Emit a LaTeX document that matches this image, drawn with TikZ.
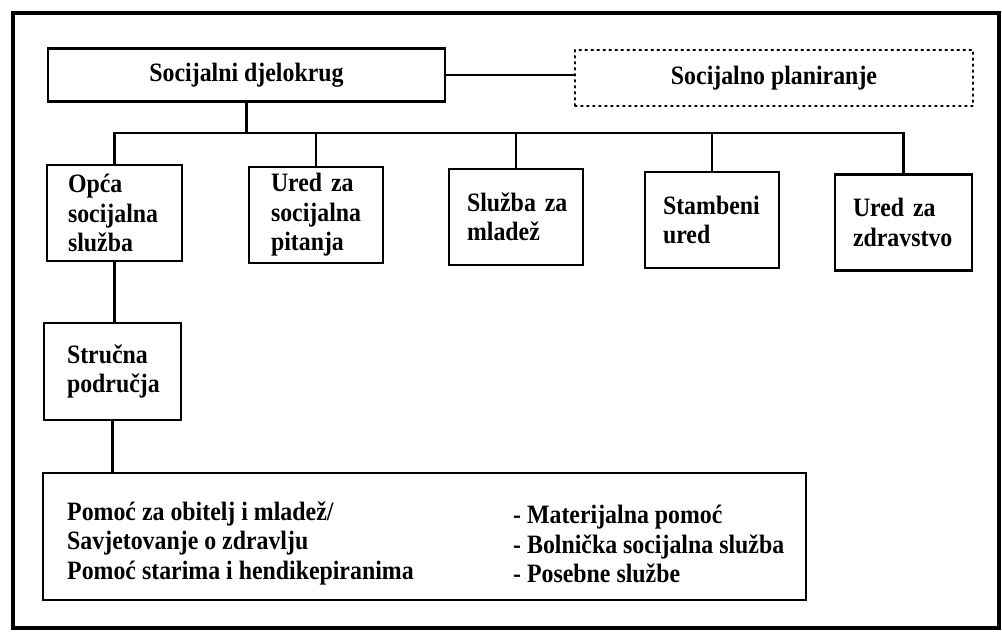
\documentclass[tikz,border=0pt]{standalone}
\usepackage{fontspec}
\setmainfont[FakeStretch=0.9]{Liberation Serif}
\begin{document}
\begin{tikzpicture}[x=1pt,y=-1pt,
  txt/.style={font=\fontsize{26.5}{29.5}\selectfont\bfseries},
  box/.style={draw, line width=2.6pt, inner ysep=0pt, txt},
  child/.style={box, align=left, inner xsep=20pt, minimum height=96pt},
  conn/.style={line width=2.4pt},
]
\useasboundingbox (0,0) rectangle (1002,635);
\draw[line width=4.5pt] (13,13) rectangle (999,628);

\node[box, minimum width=397pt, minimum height=53pt, inner xsep=0pt] (top) at (246.5,75) {Socijalni djelokrug};
\node[draw, line width=2pt, dash pattern=on 1.6pt off 4.4pt, line cap=round, minimum width=398pt, minimum height=56pt, txt] (plan) at (774,78) {Socijalno planiranje};

\node[child, text width=93pt, inner xsep=21pt] (opca) at (114.5,213) {Opća\\socijalna\\služba};
\node[child, text width=90pt, inner xsep=22pt] (ured) at (316,215) {Ured~za\\socijalna\\pitanja};
\node[child, text width=98pt, inner xsep=18pt] (sluzba) at (516,217) {Služba~za\\mladež};
\node[child, text width=98pt, inner xsep=18pt] (stamb) at (712,220) {Stambeni\\ured};
\node[child, text width=101pt, inner xsep=18pt] (zdrav) at (903.5,222.5) {Ured~za\\zdravstvo};

\node[child, text width=91pt, inner xsep=23pt, minimum height=97pt] (strucna) at (112.5,371.5) {Stručna\\područja};

\node[box, minimum width=763pt, minimum height=127pt] (pomoc) at (424.5,536.5) {};
\node[txt, align=left, anchor=west, inner sep=0pt] (lijevo) at (67,543) {Pomoć~za~obitelj~i~mladež/\\Savjetovanje~o~zdravlju\\Pomoć~starima~i~hendikepiranima};
\node[txt, align=left, anchor=west, inner sep=0pt] (desno) at (513,544) {-~Materijalna~pomoć\\-~Bolnička~socijalna~služba\\-~Posebne~službe};

\coordinate (busy) at (0,133);
\draw[conn] (top.east) -- (top.east -| plan.west);
\draw[conn] (top.south) -- (top.south |- busy);
\draw[conn] (opca.north) -- (opca.north |- busy) -- (zdrav.north |- busy) -- (zdrav.north);
\draw[conn] (ured.north) -- (ured.north |- busy);
\draw[conn] (sluzba.north) -- (sluzba.north |- busy);
\draw[conn] (stamb.north) -- (stamb.north |- busy);
\draw[conn] (opca.south) -- (opca.south |- strucna.north);
\draw[conn] (strucna.south) -- (strucna.south |- pomoc.north);
\end{tikzpicture}
\end{document}
